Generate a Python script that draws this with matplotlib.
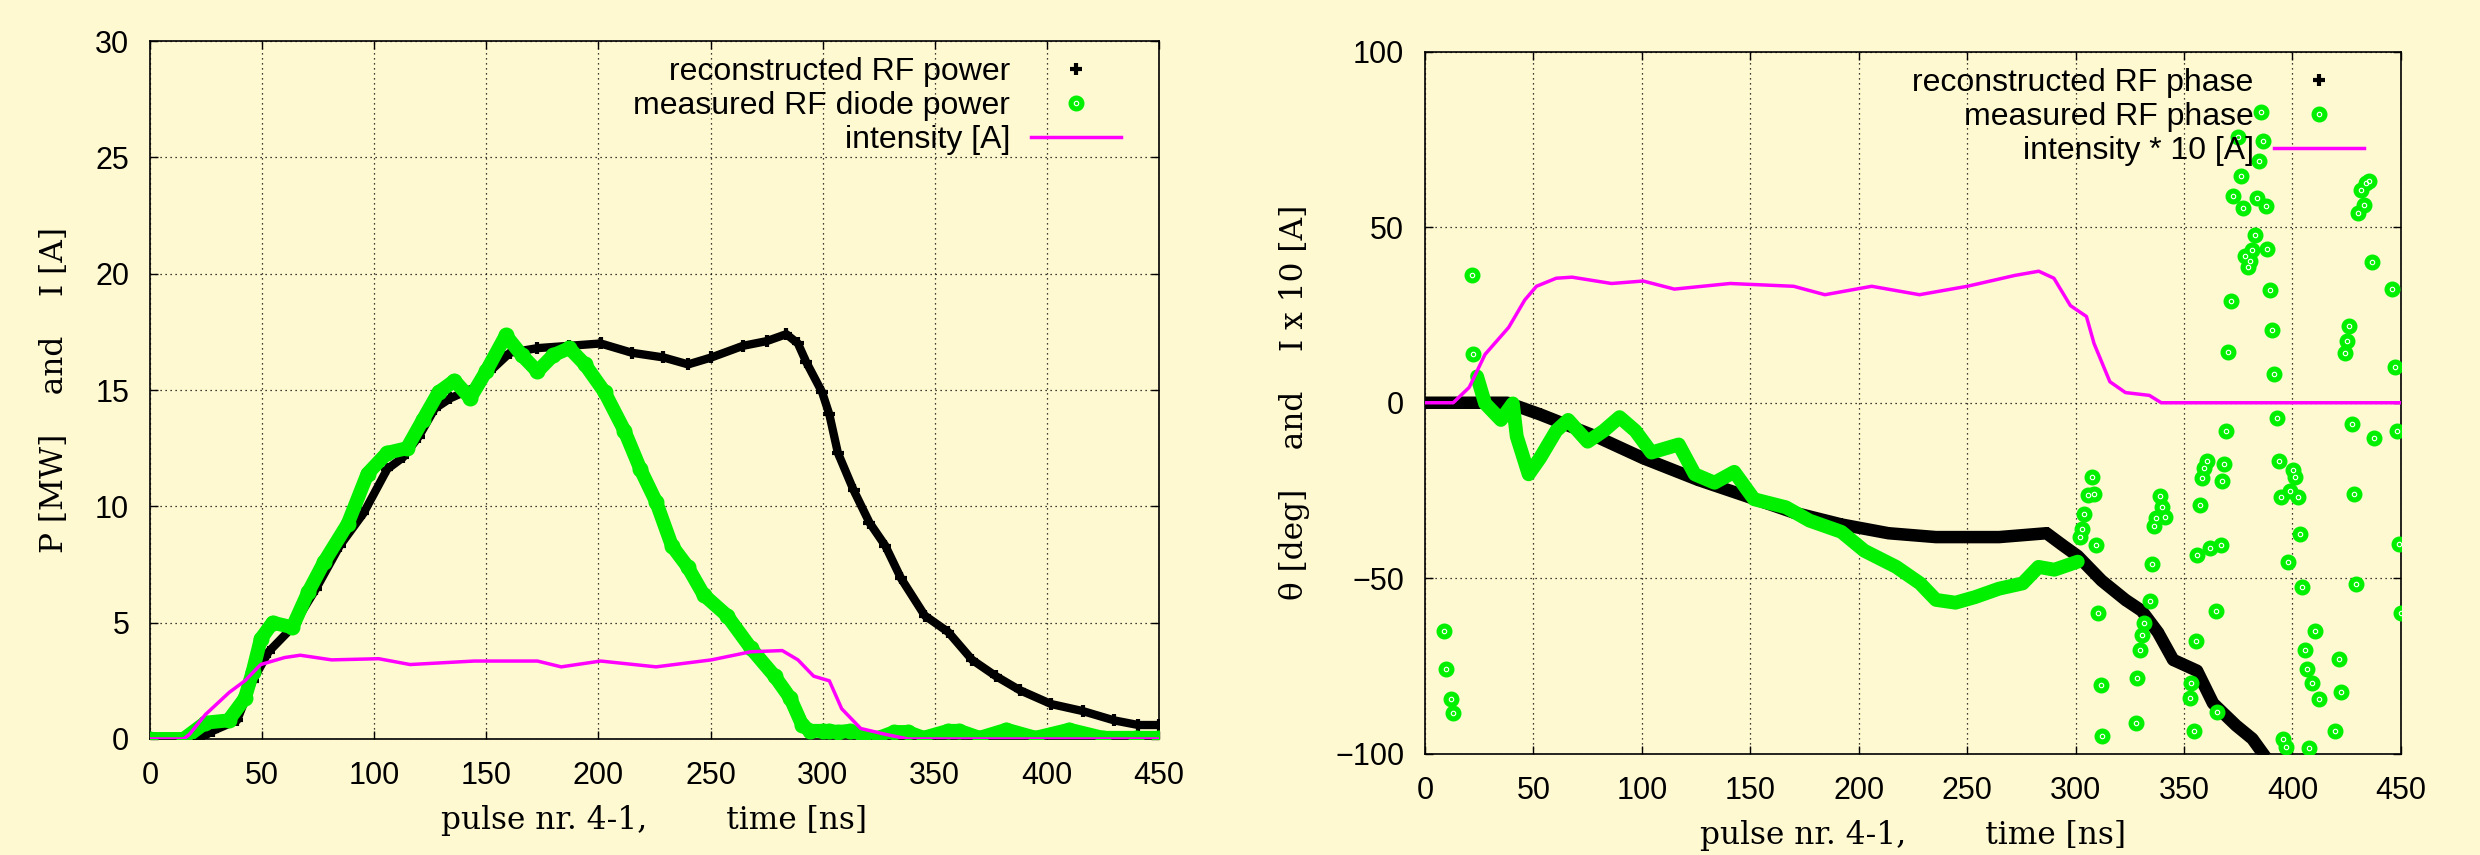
import numpy as np
import matplotlib
matplotlib.use('Agg')
from matplotlib import pyplot as plt

BG = '#FFF9D2'
GREEN = '#00F000'
MAGENTA = '#FF00FF'

# ---- left panel: power ----
t_rec_p = [0, 22, 28, 38.8, 45.8, 52.9, 63.5, 74, 84.6, 95.2, 105.8, 112.8, 119.9, 127, 134, 144.6, 151.6,
           160.5, 172.8, 187, 201, 215, 229, 240, 250.4, 264.5, 275, 283.8, 289, 292.7, 299.8, 303, 306.8,
           313.8, 320.9, 328, 335, 345.6, 356, 366.7, 377.3, 387.9, 402, 416, 430, 440.8, 450]
p_rec = [0, 0, 0.35, 0.8, 2.5, 3.75, 4.8, 6.45, 8.3, 9.7, 11.6, 12.1, 13, 14.2, 14.65, 15.1, 15.8,
         16.6, 16.8, 16.9, 17, 16.6, 16.4, 16.1, 16.4, 16.9, 17.1, 17.4, 17, 16.2, 14.9, 13.95, 12.3,
         10.7, 9.3, 8.3, 6.9, 5.3, 4.6, 3.4, 2.7, 2.1, 1.5, 1.2, 0.8, 0.6, 0.6]

t_meas_p = [0, 15, 24.7, 35, 42.3, 45.8, 49.4, 54.7, 63.5, 70.5, 77.6, 88.2, 97, 105.8, 114.6, 121.6,
            128.7, 135.8, 142.8, 149.9, 158.7, 165.8, 172.8, 179.9, 187, 194, 202.8, 211.6, 218.7,
            225.7, 232.8, 239.8, 246.9, 257.4, 268, 278.6, 285.6, 290.9, 294.4, 300, 303, 306.8, 312,
            318, 325, 332, 338, 345, 356, 361, 370, 382, 395, 410, 425, 440, 450]
p_meas = [0, 0, 0.7, 0.8, 1.75, 2.9, 4.3, 5.0, 4.8, 6.3, 7.6, 9.25, 11.4, 12.3, 12.5, 13.7,
          14.9, 15.4, 14.65, 15.8, 17.35, 16.5, 15.8, 16.5, 16.8, 16.1, 14.9, 13.25, 11.6,
          10.2, 8.3, 7.4, 6.2, 5.3, 3.9, 2.7, 1.75, 0.6, 0.35, 0.35, 0.35, 0.3, 0.35,
          0.1, 0.05, 0.3, 0.3, 0.05, 0.35, 0.35, 0.05, 0.4, 0.05, 0.4, 0.05, 0.05, 0.05]

t_int = [0, 15, 17.6, 24.7, 35.3, 42.3, 49.4, 60, 67, 81, 102, 116, 144.6, 172.8, 183.4, 201, 225.7,
         250.4, 268, 282, 289, 296, 303, 308.5, 317, 328, 338, 450]
i_int = [0, 0, 0.2, 1.05, 2, 2.5, 3.2, 3.5, 3.6, 3.4, 3.45, 3.2, 3.35, 3.35, 3.1, 3.35, 3.1,
         3.4, 3.75, 3.8, 3.4, 2.7, 2.5, 1.3, 0.45, 0.2, 0, 0]

# ---- right panel: phase ----
t_rec_ph = [0, 38, 53, 78.8, 100.6, 126, 148, 170, 192, 213.7, 235.6, 264.7, 286.6, 294, 301, 312,
            323, 330.5, 338, 345, 356, 363.4, 374, 381.5, 386.4]
ph_rec = [0, 0, -3.3, -9.6, -15.8, -22, -26.6, -31.3, -34.7, -37.2, -38.3, -38.3, -37.2, -40.6, -43.7,
          -50.7, -56.2, -59.3, -65.5, -73.3, -76.4, -85.7, -92, -95.8, -100]

t_meas_ph = [24, 27.7, 35, 40.5, 42.3, 47.8, 53, 60.5, 66, 75, 82.4, 89.7, 97, 104.4, 117, 124.4,
             133.5, 142.6, 151.7, 166.4, 177.3, 192, 202.6, 217.3, 228.3, 235.6, 244.6, 253.7,
             264.7, 275.6, 282.9, 290.2, 301]
ph_meas = [7.5, -0.2, -4.9, -0.2, -9.6, -20.4, -15.8, -8, -4.9, -11.1, -8, -4.1, -8, -14.2, -11.9,
           -20.4, -22.8, -19.7, -27.5, -29.8, -33.6, -36.8, -42.2, -46.8, -51.5, -56.2, -57, -55.4,
           -53, -51.5, -46.8, -47.6, -45.3]

# scattered (wrapped) phase points
t_ph_scat = [8.75, 9.5, 12, 13.1, 21.5, 22.2,
             302, 303, 304, 305.6, 307.4, 308.5, 309.6, 310.4, 311.5, 312.2,
             328, 328.4, 329.5, 330.6, 331.7, 334.2, 335.3, 336, 337.1, 338.9, 340, 341.4,
             352.7, 353.4, 354.5, 355.3, 356, 357.2, 358.3, 359.4, 360.5, 362, 364.6, 365,
             367.2, 367.6, 368.6, 369.3, 370.4, 371.5, 372.6, 374.9, 376.4, 377.1, 378.2, 379.3,
             380.4, 381.5, 382.6, 383.7, 384.8, 385.5, 386.6, 387.6, 388.4, 389.5, 390.6, 391.6,
             392.7, 393.9, 394.6, 395.7, 396.8, 397.9, 399, 400.2, 401.3, 402.4, 403.5, 404.6,
             405.6, 406.7, 407.8, 409.2, 410.6, 412.4, 419.7, 421.5, 422.6, 424.4, 425.1, 426.2,
             427.3, 428.4, 429.5, 430.3, 431.7, 432.8, 433.9, 435.4, 436.5, 437.6, 446, 447.1,
             448.2, 449, 450]
ph_scat = [-65.2, -76, -84.5, -88.5, 36.4, 13.8,
           -38.3, -36, -31.8, -26.3, -21.2, -25.9, -40.6, -60, -80.6, -95,
           -91.3, -78.6, -70.5, -66.3, -62.7, -56.6, -46, -35.2, -32.9, -26.7, -29.8, -32.6,
           -84.1, -79.8, -93.5, -67.8, -43.4, -29.1, -21.4, -18.6, -16.6, -41.4, -59.3, -88.3,
           -40.6, -22.3, -17.6, -8, 14.5, 29.1, 58.8, 75.9, 64.6, 55.4, 41.7, 38.6,
           40.5, 43.6, 47.9, 58.4, 68.9, 82.9, 74.7, 56.2, 43.7, 32.1, 20.6, 8.2,
           -4.4, -16.5, -27, -95.8, -98.1, -45.3, -25.1, -19.2, -21.2, -27, -37.5, -52.6,
           -70.5, -75.8, -98.4, -79.8, -65.2, -84.5, -93.5, -73, -82.6, 14.1, 17.6, 22,
           -6.1, -25.9, -51.7, 54.2, 60.7, 56.5, 62.7, 63.2, 40, -10, 32.4, 10.2,
           -8, -40.3, -60]

t_int10 = [0, 13, 20.4, 27.7, 38.6, 46, 51.4, 60.5, 67.8, 86, 100.6, 115, 140.7, 170, 184.4, 206, 228,
           250, 272, 283, 290, 297.6, 305, 308.5, 315.8, 323, 334, 339.5, 450]
i_int10 = [0, 0, 4.4, 13.8, 21.5, 29.3, 33.2, 35.5, 35.8, 34, 34.7, 32.4, 34, 33.2, 30.8, 33.2, 30.8,
           33.2, 36.3, 37.5, 35.5, 27.7, 24.6, 16.9, 6, 2.9, 2.1, 0, 0]

plt.rcParams['font.family'] = ['Liberation Sans', 'DejaVu Sans']
plt.rcParams['font.size'] = 22

fig = plt.figure(figsize=(24.8, 8.55), dpi=100, facecolor=BG)
ax1 = fig.add_axes([0.0605, 0.1357, 0.4068, 0.8163], facecolor=BG)
ax2 = fig.add_axes([0.5746, 0.1187, 0.3935, 0.8205], facecolor=BG)

serif = ['DejaVu Serif']


def style(ax, yt):
    ax.set_xlim(0, 450)
    ax.set_xticks(range(0, 451, 50))
    ax.set_yticks(yt)
    ax.set_ylim(yt[0], yt[-1])
    ax.tick_params(direction='in', length=6, width=1, top=True, right=True, labelsize=22)
    ax.tick_params(axis='x', pad=16)
    ax.tick_params(axis='y', pad=15)
    ax.grid(True, color='black', linestyle=(0, (1, 3)), linewidth=0.9)
    for s in ax.spines.values():
        s.set_linewidth(1.2)
    ax.set_xlabel('pulse nr. 4-1,        time [ns]', family=serif, fontsize=22.5, labelpad=10)


def legend(ax, h, l):
    ax.legend(h, l, loc='upper right', bbox_to_anchor=(0.962, 0.977),
              frameon=False, markerfirst=False, handlelength=2.8, handletextpad=0.65, labelspacing=0.12,
              borderpad=0, borderaxespad=0, fontsize=23)


# left
style(ax1, [0, 5, 10, 15, 20, 25, 30])
ax1.plot(t_rec_p, p_rec, color='black', lw=6, zorder=2)
m_rec, = ax1.plot(t_rec_p, p_rec, '+', color='black', ms=8, mew=3, zorder=2)
ax1.plot(t_meas_p, p_meas, color=GREEN, lw=10, solid_capstyle='round', solid_joinstyle='round', zorder=3)
m_meas, = ax1.plot(t_meas_p, p_meas, 'o', color=GREEN, ms=10.5, zorder=3)
ring1, = ax1.plot([], [], 'o', mfc='none', mec='white', ms=3.2, mew=0.8)
l_int, = ax1.plot(t_int, i_int, color=MAGENTA, lw=2.5, zorder=4)
ax1.set_ylabel('P [MW]    and    I [A]', family=serif, fontsize=22.5, labelpad=18)
legend(ax1, [m_rec, (m_meas, ring1), l_int],
       ['reconstructed RF power', 'measured RF diode power', 'intensity [A]'])

# right
style(ax2, [-100, -50, 0, 50, 100])
ax2.plot(t_rec_ph, ph_rec, color='black', lw=9, zorder=2)
m_rec2, = ax2.plot(t_rec_ph, ph_rec, '+', color='black', ms=8, mew=3, zorder=2)
ax2.plot(t_meas_ph, ph_meas, color=GREEN, lw=10, solid_capstyle='round', solid_joinstyle='round', zorder=3)
m_meas2, = ax2.plot(t_ph_scat, ph_scat, 'o', color=GREEN, ms=10.5, zorder=3)
ring2, = ax2.plot(t_ph_scat, ph_scat, 'o', mfc='none', mec='white', ms=3.2, mew=0.8, zorder=3)
l_int2, = ax2.plot(t_int10, i_int10, color=MAGENTA, lw=2.5, zorder=4)
ax2.set_ylabel('θ [deg]    and    I x 10 [A]', family=serif, fontsize=22.5, labelpad=18)
legend(ax2, [m_rec2, (m_meas2, ring2), l_int2],
       ['reconstructed RF phase', 'measured RF phase', 'intensity * 10 [A]'])

fig.savefig('out.png', dpi=100, facecolor=BG)
